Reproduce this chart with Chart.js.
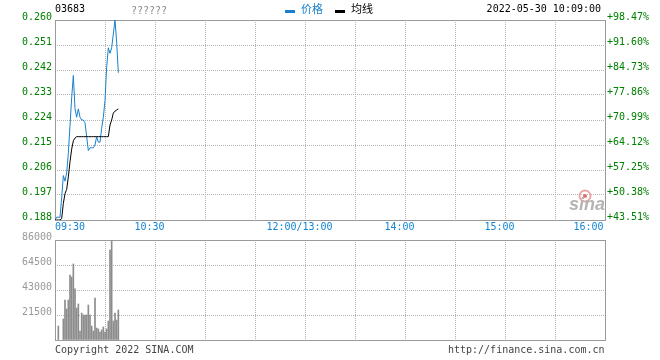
<!DOCTYPE html>
<html><head><meta charset="utf-8">
<script src="https://cdn.jsdelivr.net/npm/chart.js@4.4.0/dist/chart.umd.min.js"></script>
<style>
html,body{margin:0;padding:0;background:#fff;}
#wrap{position:relative;width:660px;height:360px;}
canvas{position:absolute;left:0;top:0;}
</style></head><body>
<div id="wrap"><canvas id="price" width="660" height="360"></canvas><canvas id="vol" width="660" height="360"></canvas></div>
<script>
const stockCode = '03683';
const stockName = '??????';
const dateTime = '2022-05-30 10:09:00';
const prevClose = 0.131;
const priceTicks = [0.188, 0.197, 0.206, 0.215, 0.224, 0.233, 0.242, 0.251, 0.260];
const volTicks = [0, 21500, 43000, 64500, 86000];
const gridMinutes = [0, 30, 60, 90, 120, 150, 180, 210, 240, 270, 300, 330];
const timeLabels = ['09:30', '10:30', '12:00/13:00', '14:00', '15:00', '16:00'];
const timeLabelMinutes = [0, 60, 150, 210, 270, 330];
const seriesNames = ['价格', '均线'];
// one value per minute from 09:30
const price = [0.188,0.189,0.189,0.189,0.196,0.204,0.202,0.205,0.212,0.222,0.232,0.240,0.228,0.225,0.228,0.225,0.224,0.224,0.223,0.218,0.213,0.214,0.214,0.214,0.215,0.218,0.216,0.216,0.221,0.225,0.231,0.243,0.250,0.248,0.250,0.255,0.260,0.252,0.241];
const avgPrice = [0.188,0.188,0.188,0.188,0.1885,0.194,0.1975,0.199,0.2035,0.209,0.2135,0.2165,0.2175,0.218,0.218,0.218,0.218,0.218,0.218,0.218,0.218,0.218,0.218,0.218,0.218,0.218,0.218,0.218,0.218,0.218,0.218,0.218,0.218,0.2222,0.224,0.2265,0.2272,0.2276,0.228];
const volMinutes = [2,5,6,7,8,9,10,11,12,13,14,15,16,17,18,19,20,21,22,23,24,25,26,27,28,29,30,31,32,33,34,35,36,37,38];
const volume = [12000,18100,34400,26700,34400,55900,54200,65400,43900,27500,31000,7700,23200,21500,21500,21500,30100,21500,12000,7700,36100,10300,9500,6900,8600,11200,6900,9500,16300,77400,85100,16300,23200,17200,25800];

const mono = '"DejaVu Sans Mono", monospace';
const gridColor = '#b4b4b4';
const frameColor = '#9a9a9a';
const blue = '#1a80cc';

const framePlugin = {
  id: 'frame',
  beforeDatasetsDraw(chart) {
    const {ctx, chartArea: a} = chart;
    ctx.save();
    ctx.strokeStyle = frameColor; ctx.lineWidth = 1;
    ctx.strokeRect(a.left + 0.5, a.top + 0.5, a.right - a.left, a.bottom - a.top);
    ctx.restore();
  }
};

const headerPlugin = {
  id: 'header',
  afterDraw(chart) {
    const ctx = chart.ctx, xs = chart.scales.x;
    ctx.save();
    ctx.textBaseline = 'middle';
    ctx.font = '10px ' + mono;
    ctx.fillStyle = '#000'; ctx.textAlign = 'left';
    ctx.fillText(stockCode, 55, 9);
    ctx.fillStyle = '#888';
    ctx.fillText(stockName, 131, 11);
    ctx.textAlign = 'right'; ctx.fillStyle = '#000';
    ctx.fillText(dateTime, 601, 9);
    // legend
    const ds = chart.data.datasets;
    const items = [{x: 285, d: ds[1]}, {x: 335, d: ds[0]}];
    ctx.textAlign = 'left';
    ctx.font = '11px "Noto Sans CJK SC", sans-serif';
    items.forEach(it => {
      ctx.fillStyle = it.d.borderColor;
      ctx.fillRect(it.x, 10, 10, 3);
      ctx.fillText(it.d.label, it.x + 16, 9);
    });
    // time labels
    ctx.font = '10px ' + mono;
    ctx.fillStyle = '#1284d6';
    timeLabels.forEach((t, i) => {
      const px = xs.getPixelForValue(timeLabelMinutes[i]);
      if (i === 0) { ctx.textAlign = 'left'; ctx.fillText(t, px, 227); }
      else if (i === timeLabels.length - 1) { ctx.textAlign = 'right'; ctx.fillText(t, px - 1.5, 227); }
      else { ctx.textAlign = 'center'; ctx.fillText(t, px - 5.5, 227); }
    });
    ctx.restore();
  },
  beforeDatasetsDraw(chart) {
    const ctx = chart.ctx;
    ctx.save();
    ctx.strokeStyle = '#eaa4a4'; ctx.lineWidth = 1.8;
    ctx.beginPath(); ctx.arc(585, 196, 5.5, 0, Math.PI * 2); ctx.stroke();
    ctx.fillStyle = '#e07070';
    ctx.beginPath(); ctx.arc(585, 196, 2, 0, Math.PI * 2); ctx.fill();
    ctx.font = 'italic bold 18px "Liberation Sans", sans-serif';
    ctx.fillStyle = '#b4b4b4'; ctx.textAlign = 'left'; ctx.textBaseline = 'alphabetic';
    ctx.fillText('sina', 569, 210);
    ctx.restore();
  }
};

const footerPlugin = {
  id: 'footer',
  afterDraw(chart) {
    const ctx = chart.ctx;
    ctx.save();
    ctx.font = '10px ' + mono; ctx.textBaseline = 'middle'; ctx.fillStyle = '#444';
    ctx.textAlign = 'left'; ctx.fillText('Copyright 2022 SINA.COM', 55, 350);
    ctx.textAlign = 'right'; ctx.fillText('http://finance.sina.com.cn', 604.5, 350);
    ctx.restore();
  }
};

function xScale() {
  return {
    type: 'linear', min: 0, max: 330, offset: false,
    afterBuildTicks: s => { s.ticks = gridMinutes.map(v => ({value: v})); },
    ticks: {display: false},
    grid: {color: gridColor, drawTicks: false, offset: false},
    border: {display: false, dash: [1, 1]},
    afterFit: s => { s.height = 0; }
  };
}

new Chart(document.getElementById('price'), {
  type: 'line',
  data: {datasets: [
    {label: seriesNames[1], data: avgPrice.map((v, i) => ({x: i, y: v})), borderColor: '#000', borderWidth: 1, pointRadius: 0, tension: 0},
    {label: seriesNames[0], data: price.map((v, i) => ({x: i, y: v})), borderColor: blue, borderWidth: 1, pointRadius: 0, tension: 0}
  ]},
  options: {
    responsive: false, animation: false, events: [],
    layout: {padding: {top: 20, bottom: 140, left: 0, right: 0}},
    plugins: {legend: {display: false}, tooltip: {enabled: false}},
    scales: {
      x: xScale(),
      y: {
        position: 'left', min: priceTicks[0], max: priceTicks[priceTicks.length - 1],
        afterBuildTicks: s => { s.ticks = priceTicks.map(v => ({value: v})); },
        ticks: {color: '#008000', font: {family: mono, size: 10}, padding: 3, labelOffset: -2.5, callback: v => v.toFixed(3)},
        grid: {color: gridColor, drawTicks: false},
        border: {display: false, dash: [1, 1]},
        afterFit: s => { s.width = 55; }
      },
      y1: {
        position: 'right', min: priceTicks[0], max: priceTicks[priceTicks.length - 1],
        afterBuildTicks: s => { s.ticks = priceTicks.map(v => ({value: v})); },
        ticks: {color: '#008000', font: {family: mono, size: 10}, padding: 2, labelOffset: -2.5,
          callback: v => '+' + ((v / prevClose - 1) * 100).toFixed(2) + '%'},
        grid: {drawOnChartArea: false, drawTicks: false},
        border: {display: false},
        afterFit: s => { s.width = 55; }
      }
    }
  },
  plugins: [framePlugin, headerPlugin]
});

new Chart(document.getElementById('vol'), {
  type: 'bar',
  data: {datasets: [
    {label: 'volume', data: volume.map((v, i) => ({x: volMinutes[i], y: v})), backgroundColor: '#8c8c8c', barThickness: 1, grouped: false}
  ]},
  options: {
    responsive: false, animation: false, events: [],
    layout: {padding: {top: 240, bottom: 20, left: 0, right: 55}},
    plugins: {legend: {display: false}, tooltip: {enabled: false}},
    scales: {
      x: xScale(),
      y: {
        position: 'left', min: 0, max: volTicks[volTicks.length - 1],
        afterBuildTicks: s => { s.ticks = volTicks.map(v => ({value: v})); },
        ticks: {color: '#999', font: {family: mono, size: 10}, padding: 3, labelOffset: -2.5, callback: v => v === 0 ? '' : String(v)},
        grid: {color: gridColor, drawTicks: false},
        border: {display: false, dash: [1, 1]},
        afterFit: s => { s.width = 55; }
      }
    }
  },
  plugins: [framePlugin, footerPlugin]
});
</script>
</body></html>
